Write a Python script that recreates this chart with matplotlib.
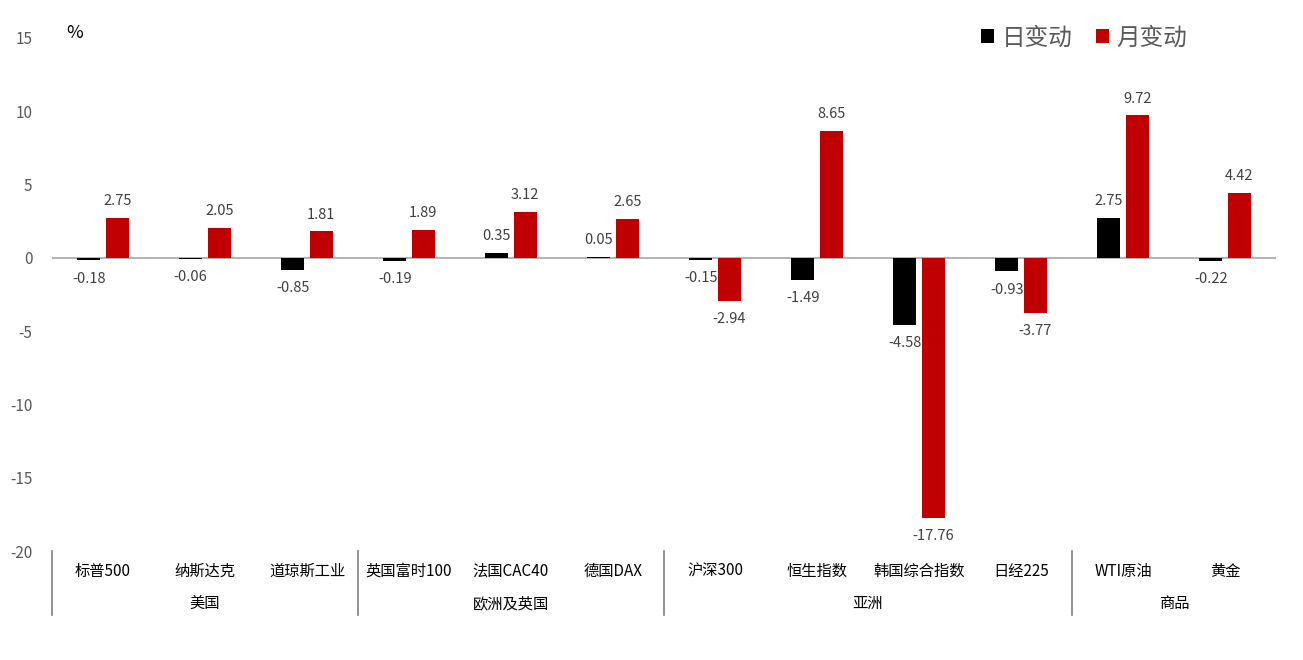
import matplotlib.pyplot as plt
import numpy as np

plt.rcParams['font.family'] = ['Noto Sans CJK SC', 'DejaVu Sans']
plt.rcParams['axes.unicode_minus'] = False

categories = ["标普500", "纳斯达克", "道琼斯工业", "英国富时100", "法国CAC40", "德国DAX",
              "沪深300", "恒生指数", "韩国综合指数", "日经225", "WTI原油", "黄金"]
groups = ["美国", "欧洲及英国", "亚洲", "商品"]
group_sizes = [3, 3, 4, 2]
daily = [-0.18, -0.06, -0.85, -0.19, 0.35, 0.05, -0.15, -1.49, -4.58, -0.93, 2.75, -0.22]
monthly = [2.75, 2.05, 1.81, 1.89, 3.12, 2.65, -2.94, 8.65, -17.76, -3.77, 9.72, 4.42]

BLACK = "#000000"
RED = "#C00000"
GREY = "#595959"
LABEL = "#404040"


def main():
    fig = plt.figure(figsize=(13.03, 6.6), dpi=100)
    ax = fig.add_axes([52 / 1303, 1 - 551 / 660, (1276 - 52) / 1303, (551 - 38) / 660])

    x = np.arange(len(categories))
    w = 0.225
    off = 0.14
    b1 = ax.bar(x - off, daily, w, color=BLACK, label="日变动")
    b2 = ax.bar(x + off, monthly, w, color=RED, label="月变动")

    for bars, vals in ((b1, daily), (b2, monthly)):
        for rect, v in zip(bars, vals):
            cx = rect.get_x() + rect.get_width() / 2
            dy = 12 if v >= 0 else -13
            ax.annotate(f"{v:.2f}", (cx, v), xytext=(0, dy), textcoords="offset points",
                        ha="center", va="center", fontsize=10.5, color=LABEL)

    ax.set_xlim(-0.5, len(categories) - 0.5)
    ax.set_ylim(-20, 15)
    ax.set_yticks(range(-20, 16, 5))
    ax.tick_params(axis="y", length=0, labelsize=11, labelcolor=GREY, pad=14)
    ax.set_xticks([])
    for s in ax.spines.values():
        s.set_visible(False)
    ax.axhline(0, color="#A6A6A6", lw=1.2, zorder=0)

    # category and group labels under the plot
    tr = ax.get_xaxis_transform()
    for i, c in enumerate(categories):
        ax.text(i, -0.04, c, transform=tr, ha="center", va="center", fontsize=11, color="black")
    start = 0
    for g, n in zip(groups, group_sizes):
        ax.text(start + n / 2 - 0.5, -0.102, g, transform=tr, ha="center", va="center",
                fontsize=11, color="black")
        ax.plot([start - 0.5, start - 0.5], [0, -0.125], transform=tr, color="#7F7F7F",
                lw=1.2, clip_on=False)
        start += n

    ax.text(0.012, 1.01, "%", transform=ax.transAxes, ha="left", va="center",
            fontsize=13, color="black")

    ax.legend(loc="center right", bbox_to_anchor=(0.935, 1.0), ncol=2, frameon=False,
              fontsize=17, labelcolor=GREY, handlelength=0.55, handleheight=0.55,
              handletextpad=0.3, columnspacing=1.0, borderaxespad=0)

    fig.savefig("out.png", dpi=100)


if __name__ == "__main__":
    main()
